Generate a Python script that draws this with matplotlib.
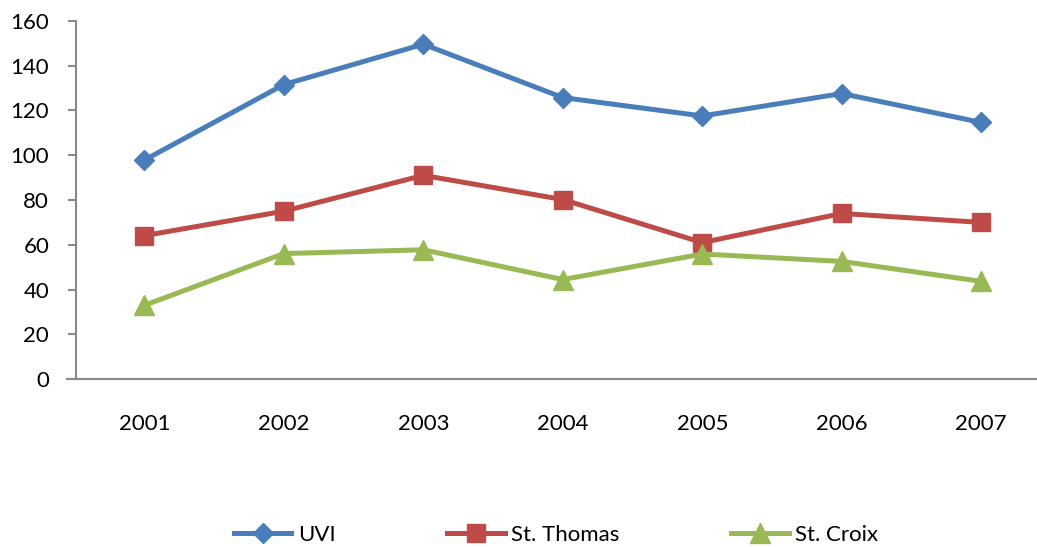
import matplotlib
matplotlib.use("Agg")
from matplotlib import pyplot as plt

years = ["2001", "2002", "2003", "2004", "2005", "2006", "2007"]
uvi = [97.8, 131.5, 149.5, 125.7, 117.5, 127.5, 114.6]
st_thomas = [64.1, 75.0, 91.0, 80.2, 61.0, 74.0, 70.0]
st_croix = [33.0, 56.1, 57.8, 44.5, 55.9, 52.6, 43.7]

plt.rcParams['font.family'] = ['Lato', 'DejaVu Sans']
axis_grey = '#898989'

fig = plt.figure(figsize=(10.37, 5.47), dpi=100)
ax = fig.add_axes([76 / 1037, 1 - 379.3 / 547, 1 - 76 / 1037, (379.3 - 20.7) / 547])

x = list(range(len(years)))
ax.plot(x, uvi, color='#4A7EBB', lw=3.6, marker='D', ms=10, label='UVI')
ax.plot(x, st_thomas, color='#BE4B48', lw=3.6, marker='s', ms=13, label='St. Thomas')
ax.plot(x, st_croix, color='#98B954', lw=3.6, marker='^', ms=14, label='St. Croix')

ax.set_ylim(0, 160)
ax.set_yticks(range(0, 161, 20))
ax.set_xlim(-0.49, 6.40)
ax.set_xticks(x)
ax.set_xticklabels(years)

for side in ('top', 'right'):
    ax.spines[side].set_visible(False)
for side in ('left', 'bottom'):
    ax.spines[side].set_color(axis_grey)
    ax.spines[side].set_linewidth(1.5)
ax.spines['bottom'].set_bounds(-0.555, 6.40)

ax.tick_params(axis='y', length=5.8, width=1.5, color=axis_grey, pad=13.5, labelsize=16)
ax.tick_params(axis='x', length=0, pad=25, labelsize=16)

fig.legend(loc='center', bbox_to_anchor=(556 / 1037, 1 - 535 / 547), ncol=3,
           frameon=False, fontsize=16, handlelength=2.6, columnspacing=5.0,
           handletextpad=0.3)

plt.savefig('out.png', dpi=100)
